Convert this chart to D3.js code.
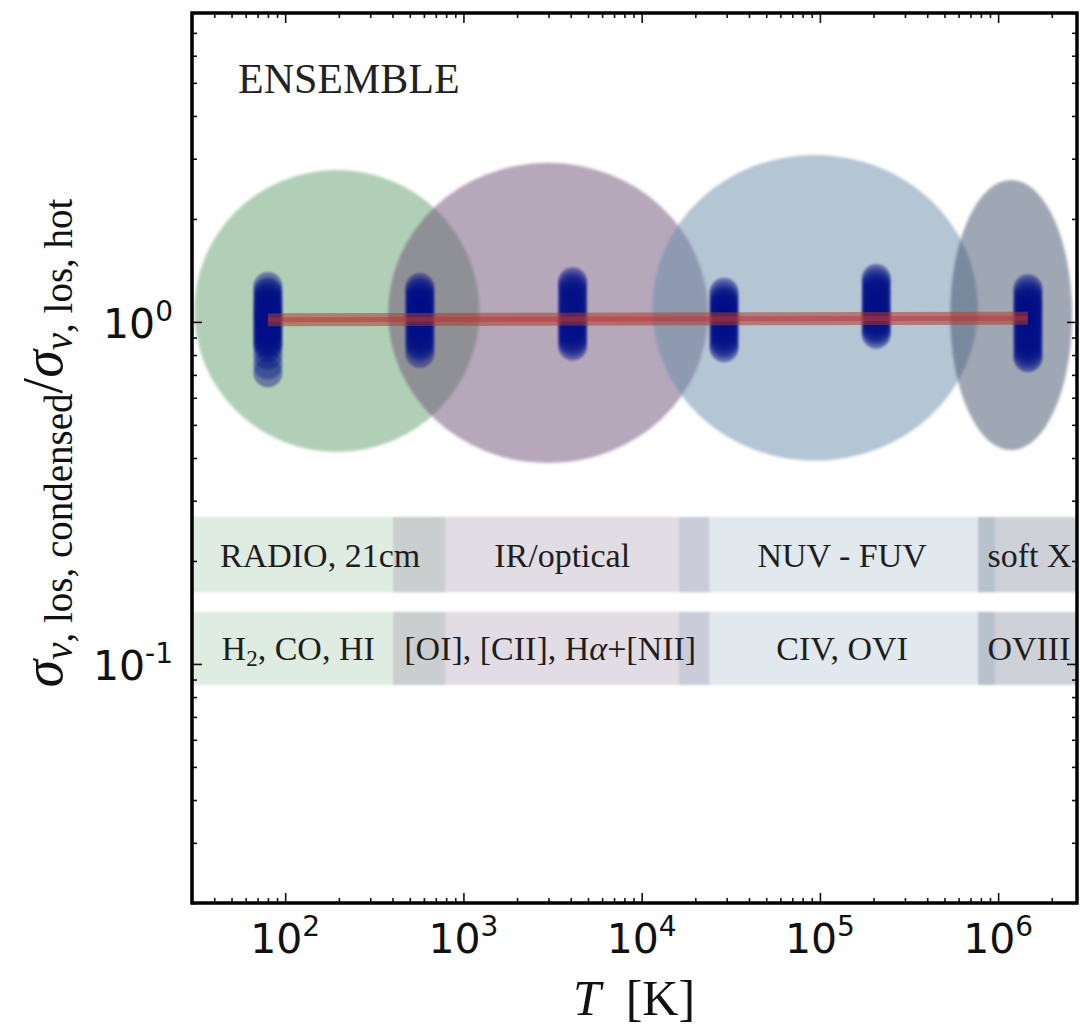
<!DOCTYPE html>
<html>
<head>
<meta charset="utf-8">
<script src="https://cdn.jsdelivr.net/npm/d3@7"></script>
<style>
  body { margin: 0; background: #fff; }
</style>
</head>
<body>
<svg id="chart" width="1080" height="1029"></svg>
<script>
// temperature bins (K) and the ratio samples stacked at each one
var temps = [80, 570, 4100, 29000, 207000, 1470000];
var ratios = [
  [1.27, 1.23, 1.21, 1.18, 1.16, 1.14, 1.12, 1.10, 1.08, 1.07, 1.05, 1.04, 1.02, 1.01, 0.99, 0.98, 0.96, 0.95, 0.93, 0.92, 0.90, 0.89, 0.87, 0.86, 0.84, 0.80, 0.75, 0.71],
  [1.26, 1.23, 1.21, 1.18, 1.16, 1.14, 1.12, 1.10, 1.08, 1.06, 1.04, 1.02, 1.00, 0.98, 0.96, 0.94, 0.92, 0.90, 0.88, 0.86, 0.84, 0.81],
  [1.31, 1.28, 1.25, 1.22, 1.19, 1.16, 1.13, 1.11, 1.08, 1.06, 1.03, 1.01, 0.99, 0.97, 0.95, 0.93, 0.91, 0.89, 0.87, 0.85],
  [1.22, 1.19, 1.16, 1.14, 1.12, 1.10, 1.08, 1.06, 1.04, 1.02, 1.00, 0.98, 0.96, 0.94, 0.92, 0.90, 0.88, 0.86, 0.84],
  [1.34, 1.31, 1.28, 1.25, 1.22, 1.20, 1.17, 1.15, 1.12, 1.10, 1.08, 1.06, 1.04, 1.02, 1.00, 0.98, 0.96, 0.94, 0.92],
  [1.25, 1.22, 1.19, 1.16, 1.14, 1.12, 1.10, 1.08, 1.06, 1.04, 1.02, 1.00, 0.98, 0.96, 0.94, 0.92, 0.90, 0.88, 0.86, 0.84, 0.82, 0.80, 0.785]
];
// trend through the bins
var trendT = [80, 1470000];
var trendRatio = [1.015, 1.025];

// gas phases: ellipse centre (log T, ratio) and half sizes in dex
var phaseLogT = [2.29, 3.475, 4.973, 6.073];
var phaseHalfWidth = [0.8, 0.898, 0.914, 0.342];
var phaseRatio = [1.076, 1.062, 1.099, 1.047];
var phaseHalfHeight = [0.412, 0.439, 0.447, 0.395];
var phaseColors = ['rgb(100,160,110)', 'rgb(110,80,120)', 'rgb(105,140,170)', 'rgb(65,80,105)'];

// observing bands (log T ranges) and the two label rows
var bandLo = [1.40, 2.606, 4.21, 5.888];
var bandHi = [2.898, 4.379, 5.983, 6.7];
var rowLo = [0.162, 0.0868];
var rowHi = [0.269, 0.142];
var wavebands = ['RADIO, 21cm', 'IR/optical', 'NUV - FUV', 'soft X'];
var tracers = [
  [['H', ''], ['2', 'sub'], [', CO, HI', '']],
  [['[OI], [CII], H', ''], ['\u03b1', 'it'], ['+[NII]', '']],
  [['CIV, OVI', '']],
  [['OVIII', '']]
];
var labelLogT = [[2.196, 3.554, 5.125, 5.94], [2.073, 3.487, 5.125, 5.94]];
var labelAnchor = ['middle', 'middle', 'middle', 'start'];

var xTicks = [1e2, 1e3, 1e4, 1e5, 1e6];
var yTicks = [1, 0.1];

var plotLeft = 192, plotRight = 1077, plotTop = 13, plotBottom = 903;

var svg = d3.select('#chart');

var x = d3.scaleLog().domain([30, 2.77e6]).range([plotLeft, plotRight]);
var y = d3.scaleLog().domain([0.02, 8]).range([plotBottom, plotTop]);

var defs = svg.append('defs');
defs.append('clipPath').attr('id', 'plotclip')
  .append('rect')
    .attr('x', plotLeft).attr('y', plotTop)
    .attr('width', plotRight - plotLeft).attr('height', plotBottom - plotTop);
defs.append('filter').attr('id', 'soft')
  .attr('x', '-10%').attr('y', '-10%').attr('width', '120%').attr('height', '120%')
  .append('feGaussianBlur').attr('stdDeviation', 1.8);
defs.append('filter').attr('id', 'softer')
  .append('feGaussianBlur').attr('stdDeviation', 0.9);

var plot = svg.append('g').attr('clip-path', 'url(#plotclip)');

// phase ellipses
plot.append('g').attr('filter', 'url(#soft)')
  .selectAll('ellipse')
  .data(phaseLogT)
  .join('ellipse')
    .attr('cx', function(d, i) { return (x(Math.pow(10, d - phaseHalfWidth[i])) + x(Math.pow(10, d + phaseHalfWidth[i]))) / 2; })
    .attr('rx', function(d, i) { return (x(Math.pow(10, d + phaseHalfWidth[i])) - x(Math.pow(10, d - phaseHalfWidth[i]))) / 2; })
    .attr('cy', function(d, i) { return y(phaseRatio[i]); })
    .attr('ry', function(d, i) {
      var c = Math.log10(phaseRatio[i]);
      return (y(Math.pow(10, c - phaseHalfHeight[i])) - y(Math.pow(10, c + phaseHalfHeight[i]))) / 2;
    })
    .attr('fill', function(d, i) { return phaseColors[i]; })
    .attr('fill-opacity', 0.5);

// band rows
var bands = plot.append('g').attr('filter', 'url(#softer)');
rowLo.forEach(function(lo, r) {
  bands.append('g').selectAll('rect')
    .data(bandLo)
    .join('rect')
      .attr('x', function(d) { return x(Math.pow(10, d)); })
      .attr('width', function(d, i) { return x(Math.pow(10, bandHi[i])) - x(Math.pow(10, d)); })
      .attr('y', y(rowHi[r]))
      .attr('height', y(lo) - y(rowHi[r]))
      .attr('fill', function(d, i) { return phaseColors[i]; })
      .attr('fill-opacity', function(d, i) { return i == 3 ? 0.26 : 0.2; });
});

// band labels
var labels = plot.append('g')
  .attr('font-family', '"Liberation Serif", "Times New Roman", serif')
  .attr('font-size', 34)
  .attr('fill', '#1e1e1e');

labels.selectAll('text.wave')
  .data(wavebands)
  .join('text')
    .attr('class', 'wave')
    .attr('x', function(d, i) { return x(Math.pow(10, labelLogT[0][i])); })
    .attr('y', (y(rowLo[0]) + y(rowHi[0])) / 2 + 12)
    .attr('text-anchor', function(d, i) { return labelAnchor[i]; })
    .text(function(d) { return d; });

labels.selectAll('text.tracer')
  .data(tracers)
  .join('text')
    .attr('class', 'tracer')
    .attr('x', function(d, i) { return x(Math.pow(10, labelLogT[1][i])); })
    .attr('y', (y(rowLo[1]) + y(rowHi[1])) / 2 + 12)
    .attr('text-anchor', function(d, i) { return labelAnchor[i]; })
    .each(function(parts) {
      var t = d3.select(this);
      var lowered = false;
      parts.forEach(function(p) {
        var s = t.append('tspan').text(p[0]);
        if (p[1] == 'sub') {
          s.attr('font-size', 23).attr('dy', 6);
          lowered = true;
        } else {
          if (p[1] == 'it') s.attr('font-style', 'italic');
          if (lowered) { s.attr('dy', -6); lowered = false; }
        }
      });
    });

// sample points
var dots = plot.append('g').attr('filter', 'url(#softer)');
temps.forEach(function(t, i) {
  dots.append('g').selectAll('circle')
    .data(ratios[i])
    .join('circle')
      .attr('cx', x(t))
      .attr('cy', function(d) { return y(d); })
      .attr('r', 14.5)
      .attr('fill', '#000f86')
      .attr('fill-opacity', 0.42);
});

// trend line
var trend = d3.line()
  .x(function(d, i) { return x(trendT[i]); })
  .y(function(d) { return y(d); });

plot.append('path')
  .attr('d', trend(trendRatio))
  .attr('fill', 'none')
  .attr('stroke', '#a8402c')
  .attr('stroke-opacity', 0.55)
  .attr('stroke-width', 13);
plot.append('path')
  .attr('d', trend(trendRatio))
  .attr('fill', 'none')
  .attr('stroke', '#c8283c')
  .attr('stroke-opacity', 0.45)
  .attr('stroke-width', 5);

// ENSEMBLE tag
svg.append('text')
  .attr('x', 238)
  .attr('y', 93)
  .attr('font-family', '"Liberation Serif", "Times New Roman", serif')
  .attr('font-size', 42)
  .attr('fill', '#222')
  .text('ENSEMBLE');

// axes: minor and major ticks all pointing inward
function minorTicks(scale) {
  return scale.ticks().filter(function(v) {
    var e = Math.log10(v);
    return Math.abs(e - Math.round(e)) > 1e-6;
  });
}

var axes = svg.append('g').attr('class', 'axes');
function drawAxis(axisFn, transform, scale, majors) {
  var gMin = axes.append('g').attr('transform', transform)
    .call(axisFn(scale).tickValues(minorTicks(scale)).tickSize(-5).tickFormat(''));
  var gMaj = axes.append('g').attr('transform', transform)
    .call(axisFn(scale).tickValues(majors).tickSize(-10).tickFormat(''));
  [gMin, gMaj].forEach(function(g) {
    g.select('.domain').remove();
    g.selectAll('line').attr('stroke', '#111').attr('stroke-width', 1.6);
  });
}
drawAxis(d3.axisBottom, 'translate(0,' + plotBottom + ')', x, xTicks);
drawAxis(d3.axisTop, 'translate(0,' + plotTop + ')', x, xTicks);
drawAxis(d3.axisLeft, 'translate(' + plotLeft + ',0)', y, yTicks);
drawAxis(d3.axisRight, 'translate(' + plotRight + ',0)', y, yTicks);

svg.append('rect')
  .attr('x', plotLeft).attr('y', plotTop)
  .attr('width', plotRight - plotLeft).attr('height', plotBottom - plotTop)
  .attr('fill', 'none')
  .attr('stroke', '#000')
  .attr('stroke-width', 3.5);

// tick labels
var tickFont = '"DejaVu Sans", sans-serif';
svg.append('g').selectAll('text')
  .data(xTicks)
  .join('text')
    .attr('x', function(d) { return x(d); })
    .attr('y', 953)
    .attr('text-anchor', 'middle')
    .attr('font-family', tickFont)
    .attr('font-size', 41)
    .attr('fill', '#111')
    .each(function(d) {
      var t = d3.select(this);
      t.append('tspan').text('10');
      t.append('tspan').attr('font-size', 28).attr('dy', -17).text(Math.round(Math.log10(d)));
    });

svg.append('g').selectAll('text')
  .data(yTicks)
  .join('text')
    .attr('x', 173)
    .attr('y', function(d) { return y(d) + 16; })
    .attr('text-anchor', 'end')
    .attr('font-family', tickFont)
    .attr('font-size', 41)
    .attr('fill', '#111')
    .each(function(d) {
      var t = d3.select(this);
      t.append('tspan').text('10');
      t.append('tspan').attr('font-size', 28).attr('dy', -17).text(Math.round(Math.log10(d)));
    });

// axis titles
var serif = '"Liberation Serif", "Times New Roman", serif';
var xt = svg.append('text')
  .attr('x', 634)
  .attr('y', 1015)
  .attr('text-anchor', 'middle')
  .attr('font-family', serif)
  .attr('font-size', 50)
  .attr('fill', '#111');
xt.append('tspan').attr('font-style', 'italic').text('T');
xt.append('tspan').text('\u2002[K]');

var yt = svg.append('text')
  .attr('transform', 'translate(62,443) rotate(-90)')
  .attr('text-anchor', 'middle')
  .attr('font-family', serif)
  .attr('font-size', 56)
  .attr('fill', '#111');
yt.append('tspan').attr('font-style', 'italic').text('\u03c3');
yt.append('tspan').attr('font-style', 'italic').attr('font-size', 39).attr('dy', 10).text('v');
yt.append('tspan').attr('font-size', 39).text(', los, condensed');
yt.append('tspan').attr('dy', -10).text('/');
yt.append('tspan').attr('font-style', 'italic').text('\u03c3');
yt.append('tspan').attr('font-style', 'italic').attr('font-size', 39).attr('dy', 10).text('v');
yt.append('tspan').attr('font-size', 39).text(', los, hot');
</script>
</body>
</html>
